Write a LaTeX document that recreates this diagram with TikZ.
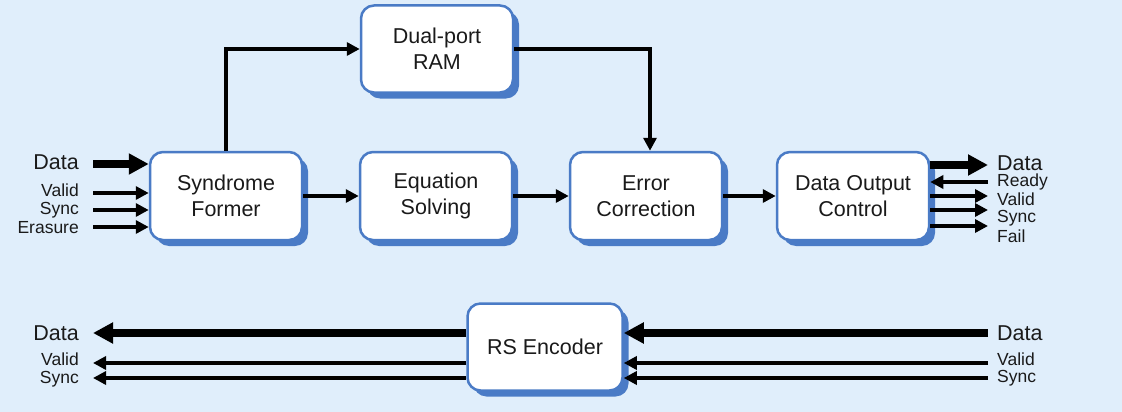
\documentclass[tikz,border=0pt]{standalone}
\usepackage{fontspec}
\setmainfont{Liberation Sans}
\usetikzlibrary{arrows.meta,shadows}
\definecolor{bg}{HTML}{E0EEFB}
\definecolor{bblue}{HTML}{4A7BC6}
\definecolor{ink}{HTML}{1A1A1A}
\begin{document}
\begin{tikzpicture}[x=1pt,y=-1pt,
  blk/.style={draw=bblue, line width=2.5pt, fill=white, rounded corners=13pt,
    minimum width=152pt, minimum height=88pt, inner sep=0pt, align=center,
    font=\fontsize{21.5}{26}\selectfont, text=ink,
    drop shadow={shadow xshift=6pt, shadow yshift=-6pt, fill=bblue, opacity=1}},
  lab/.style={font=\fontsize{21.5}{24}\selectfont, inner sep=0pt, text=ink},
  slab/.style={font=\fontsize{17.5}{18}\selectfont, inner sep=0pt, text=ink},
  sig/.style={line width=3.5pt, -{Triangle[length=13pt,width=13pt]}},
  bus/.style={line width=8pt, -{Triangle[length=20pt,width=20pt]}},
]
\fill[bg] (0,0) rectangle (1122,412);
\useasboundingbox (0,0) rectangle (1122,412);

% blocks
\node[blk] (sf) at (226,196) {Syndrome\\Former};
\node[blk] (es) at (436,196) {Equation\\Solving};
\node[blk] (ec) at (646,196) {Error\\Correction};
\node[blk] (doc) at (853,196) {Data Output\\Control};
\node[blk, minimum height=87pt] (ram) at (437,49) {Dual-port\\RAM};
\node[blk, minimum width=155pt, minimum height=87pt] (rse) at (545,347) {RS Encoder};

% internal connectors
\draw[sig] (sf) -- (es);
\draw[sig] (es) -- (ec);
\draw[sig] (ec) -- (doc);
\draw[sig] (sf.north) |- (ram.west);
\draw[sig] (ram.east) -| ([xshift=4pt]ec.north);

% left inputs
\node[lab, anchor=east] (ldata) at (79,162) {Data};
\node[slab, anchor=east] (lvalid) at (79,190) {Valid};
\node[slab, anchor=east] (lsync) at (79,210) {Sync};
\node[slab, anchor=east] (leras) at (79,228) {Erasure};
\coordinate (idata) at (93,164);
\coordinate (ivalid) at (93,193);
\coordinate (isync) at (93,210);
\coordinate (ieras) at (93,227);
\draw[bus] (idata) -- (idata -| sf.west);
\draw[sig] (ivalid) -- (ivalid -| sf.west);
\draw[sig] (isync) -- (isync -| sf.west);
\draw[sig] (ieras) -- (ieras -| sf.west);

% right outputs
\node[lab, anchor=west] (rdata) at (997,163) {Data};
\node[slab, anchor=west] (rready) at (997,182) {Ready};
\node[slab, anchor=west] (rvalid) at (997,199) {Valid};
\node[slab, anchor=west] (rsync) at (997,218) {Sync};
\node[slab, anchor=west] (rfail) at (997,236) {Fail};
\coordinate (odata) at (988,165);
\coordinate (oready) at (988,182);
\coordinate (ovalid) at (988,196);
\coordinate (osync) at (988,210);
\coordinate (ofail) at (988,226);
\draw[bus] (odata -| doc.east) -- (odata);
\draw[sig] (oready) -- (oready -| doc.east);
\draw[sig] (ovalid -| doc.east) -- (ovalid);
\draw[sig] (osync -| doc.east) -- (osync);
\draw[sig] (ofail -| doc.east) -- (ofail);

% encoder
\node[lab, anchor=east] (edatal) at (79,333) {Data};
\node[slab, anchor=east] (evalidl) at (79,359) {Valid};
\node[slab, anchor=east] (esyncl) at (79,379) {Sync};
\node[lab, anchor=west] (edatar) at (997,333) {Data};
\node[slab, anchor=west] (evalidr) at (997,359) {Valid};
\node[slab, anchor=west] (esyncr) at (997,378) {Sync};
\coordinate (eidata) at (988,333);
\coordinate (eivalid) at (988,363);
\coordinate (eisync) at (988,378);
\coordinate (eodata) at (93,333);
\coordinate (eovalid) at (93,363);
\coordinate (eosync) at (93,378);
\draw[bus] (eidata) -- (eidata -| rse.east);
\draw[sig] (eivalid) -- (eivalid -| rse.east);
\draw[sig] (eisync) -- (eisync -| rse.east);
\draw[bus] (eodata -| rse.west) -- (eodata);
\draw[sig] (eovalid -| rse.west) -- (eovalid);
\draw[sig] (eosync -| rse.west) -- (eosync);
\end{tikzpicture}
\end{document}
